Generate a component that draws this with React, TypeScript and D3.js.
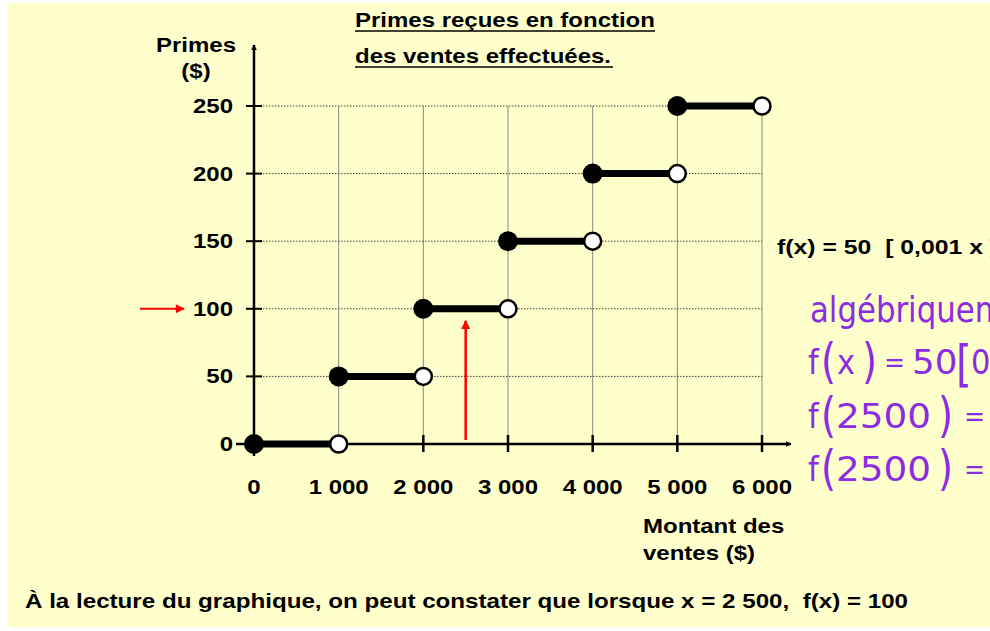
import React from "react";
import * as d3 from "d3";

// ---- data ----
const stepStarts = [0, 1000, 2000, 3000, 4000, 5000];
const stepEnds = [1000, 2000, 3000, 4000, 5000, 6000];
const stepValues = [0, 50, 100, 150, 200, 250];
const xTicks = [0, 1000, 2000, 3000, 4000, 5000, 6000];
const xTickLabels = ["0", "1 000", "2 000", "3 000", "4 000", "5 000", "6 000"];
const yTicks = [0, 50, 100, 150, 200, 250];
const yTickLabels = ["0", "50", "100", "150", "200", "250"];
const readX = 2500;
const readY = 100;

const titleLines = ["Primes reçues en fonction", "des ventes effectuées."];
const yLabelLines = ["Primes", "($)"];
const xLabelLines = ["Montant des", "ventes ($)"];
const formula = "f(x) = 50  [ 0,001 x ]";
const conclusion = "À la lecture du graphique, on peut constater que lorsque x = 2 500,  f(x) = 100";

const BG = "#FFFFCC";
const HAND = "#8B2BE2";
const FONT = "'Liberation Sans', Arial, sans-serif";
const HFONT = "'DejaVu Sans', sans-serif";

const SX = 1.2;

function T({ x, y, children, anchor = "start", size = 20, sx = SX }: any) {
  return (
    <text
      transform={`translate(${x},${y}) scale(${sx},1)`}
      textAnchor={anchor}
      fontFamily={FONT}
      fontWeight="bold"
      fontSize={size}
      fill="#000"
      style={{ whiteSpace: "pre" }}
    >
      {children}
    </text>
  );
}

function H({ x, y, children, size = 34, sx = 0.9 }: any) {
  return (
    <text transform={`translate(${x},${y}) scale(${sx},1)`} fontFamily={HFONT} fontSize={size} fill={HAND}>
      {children}
    </text>
  );
}

export default function App() {
  const W = 990, Hh = 631;
  const x = d3.scaleLinear().domain([0, 6000]).range([254, 762]);
  const y = d3.scaleLinear().domain([0, 250]).range([444, 106]);
  const x0 = x(0), y0 = y(0);

  return (
    <div style={{ position: "absolute", left: 0, top: 0 }}>
      <svg width={W} height={Hh} style={{ display: "block", background: "#fff" }}>
        <defs>
          <marker id="ah" viewBox="0 0 10 10" refX="9" refY="5" markerWidth="6" markerHeight="6" orient="auto" markerUnits="userSpaceOnUse">
            <path d="M0,0 L10,5 L0,10 z" fill="#000" />
          </marker>
          <marker id="rh" viewBox="0 0 10 10" refX="9" refY="5" markerWidth="11" markerHeight="9" orient="auto" markerUnits="userSpaceOnUse">
            <path d="M0,0 L10,5 L0,10 z" fill="red" />
          </marker>
        </defs>
        <rect x={8} y={3} width={W - 8} height={624} fill={BG} />

        {/* title */}
        <T x={355} y={27}>{titleLines[0]}</T>
        <line x1={355} x2={655} y1={31} y2={31} stroke="#000" strokeWidth={1.5} />
        <T x={355} y={63}>{titleLines[1]}</T>
        <line x1={355} x2={613} y1={67} y2={67} stroke="#000" strokeWidth={1.5} />

        {/* y label */}
        <T x={196} y={52} anchor="middle">{yLabelLines[0]}</T>
        <T x={196} y={78} anchor="middle">{yLabelLines[1]}</T>

        {/* grid vertical */}
        {xTicks.slice(1).map((t) => (
          <line key={"gv" + t} x1={x(t)} x2={x(t)} y1={y(250)} y2={y0} stroke="#8a8a80" strokeWidth={1} />
        ))}
        {/* grid horizontal dotted */}
        {yTicks.slice(1).map((t) => (
          <line key={"gh" + t} x1={x0} x2={x(6000)} y1={y(t)} y2={y(t)} stroke="#444" strokeWidth={1} strokeDasharray="1.5,1.5" />
        ))}

        {/* axes */}
        <line x1={x0} x2={x0} y1={456} y2={45} stroke="#000" strokeWidth={2.5} markerEnd="url(#ah)" />
        <line x1={236} x2={791} y1={y0} y2={y0} stroke="#000" strokeWidth={2.5} markerEnd="url(#ah)" />
        {yTicks.map((t) => (
          <line key={"yt" + t} x1={x0 - 8} x2={x0 + 8} y1={y(t)} y2={y(t)} stroke="#000" strokeWidth={2} />
        ))}
        {xTicks.map((t) => (
          <line key={"xt" + t} x1={x(t)} x2={x(t)} y1={y0 - 9} y2={y0 + 8} stroke="#000" strokeWidth={2.5} />
        ))}
        {yTicks.map((t, i) => (
          <T key={"yl" + t} x={233} y={y(t) + 7} anchor="end">{yTickLabels[i]}</T>
        ))}
        {xTicks.map((t, i) => (
          <T key={"xl" + t} x={x(t)} y={494} anchor="middle">{xTickLabels[i]}</T>
        ))}

        {/* x label */}
        <T x={643} y={533}>{xLabelLines[0]}</T>
        <T x={643} y={560}>{xLabelLines[1]}</T>

        {/* step segments */}
        {stepStarts.map((s, i) => (
          <line key={"sg" + i} x1={x(s)} x2={x(stepEnds[i])} y1={y(stepValues[i])} y2={y(stepValues[i])} stroke="#000" strokeWidth={7} />
        ))}
        {stepStarts.map((s, i) => (
          <circle key={"cc" + i} cx={x(s)} cy={y(stepValues[i])} r={10} fill="#000" />
        ))}
        {stepEnds.map((s, i) => (
          <circle key={"oc" + i} cx={x(s)} cy={y(stepValues[i])} r={8.5} fill="#fff" stroke="#000" strokeWidth={2.5} />
        ))}

        {/* red reading arrows */}
        <line x1={x(readX)} x2={x(readX)} y1={y0 - 4} y2={y(readY) + 12} stroke="red" strokeWidth={2.5} markerEnd="url(#rh)" />
        <line x1={140} x2={184} y1={y(readY)} y2={y(readY)} stroke="red" strokeWidth={2} markerEnd="url(#rh)" />

        {/* formula */}
        <T x={777} y={254} size={20} sx={1.24}>{formula}</T>

        {/* handwritten */}
        <H x={810} y={322} size={35} sx={0.88}>algébriquement</H>
        <H x={808} y={374}>f</H>
        <H x={821} y={378} size={48} sx={0.8}>(</H>
        <H x={837} y={374}>x</H>
        <H x={862} y={378} size={48} sx={0.8}>)</H>
        <H x={884} y={372} size={28}>=</H>
        <H x={912} y={374} sx={1.05}>50</H>
        <H x={956} y={381} size={50} sx={0.8}>[</H>
        <H x={971} y={374}>0</H>

        <H x={808} y={428}>f</H>
        <H x={821} y={432} size={48} sx={0.8}>(</H>
        <H x={836} y={428} sx={1.1}>2500</H>
        <H x={938} y={432} size={48} sx={0.8}>)</H>
        <H x={964} y={426} size={28}>=</H>

        <H x={808} y={481}>f</H>
        <H x={821} y={485} size={48} sx={0.8}>(</H>
        <H x={836} y={481} sx={1.1}>2500</H>
        <H x={938} y={485} size={48} sx={0.8}>)</H>
        <H x={964} y={479} size={28}>=</H>

        {/* conclusion */}
        <text x={25} y={608} fontFamily="'Liberation Sans Narrow', 'Liberation Sans', Arial, sans-serif" fontWeight="bold" fontSize={21} textLength={883} lengthAdjust="spacingAndGlyphs" fill="#000" style={{ whiteSpace: "pre" }}>
          {conclusion}
        </text>
      </svg>
    </div>
  );
}
